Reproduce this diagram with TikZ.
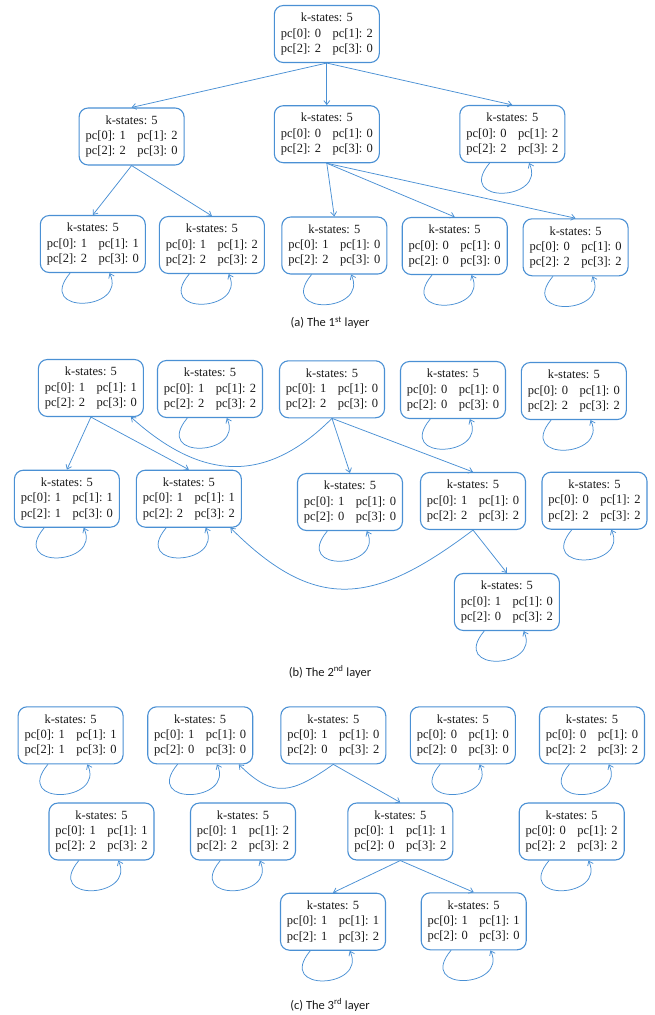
\documentclass[tikz,border=0pt]{standalone}
\usepackage{fontspec}
\setmainfont{Liberation Serif}
\newfontfamily\capfont{Carlito}
\usetikzlibrary{arrows.meta}
\definecolor{ksBlue}{HTML}{4A90D4}
\definecolor{ksInk}{HTML}{1A1A1A}
\tikzset{
 kgraph/.style={line cap=round,line join=round,text=ksInk},
 state/.style={draw=ksBlue,fill=white,line width=1.1pt,rounded corners=9pt,
   minimum width=105pt,minimum height=57pt,inner sep=0pt,align=center,
   font=\fontsize{12.5}{15.3}\selectfont},
 link/.style={draw=ksBlue,line width=.75pt,-{Straight Barb[length=4pt,width=6pt]}},
 selfloop/.style={link,out=-130,in=-65,out distance=55pt,in distance=42pt},
 back/.style={link,looseness=1.25},
 caption/.style={font=\capfont\fontsize{12.5}{15}\selectfont}
}
\newcommand{\kst}[4]{k-states: 5\\pc[0]: #1\hspace{11.5pt}pc[1]: #2\\pc[2]: #3\hspace{11.5pt}pc[3]: #4}

\begin{document}
\begin{tikzpicture}[kgraph,x=10pt,y=10pt]
 \useasboundingbox (0,0) rectangle (65.5,-101.5);
 % (a) the first layer
 \foreach \n/\x/\y/\p/\q/\r/\s in {a0/32.68/-3.40/0/2/2/0,a1/13.16/-13.65/1/2/2/0,
   a2/32.68/-13.42/0/0/2/0,a3/51.23/-13.40/0/2/2/2,a4/9.28/-24.40/1/1/2/0,
   a5/21.19/-24.50/1/2/2/2,a6/33.43/-24.55/1/0/2/0,a7/45.47/-24.60/0/0/0/0,
   a8/57.56/-24.73/0/0/2/2}{
  \node[state] (\n) at (\x,\y) {\kst{\p}{\q}{\r}{\s}};
 }
 % (b) the second layer
 \foreach \n/\x/\y/\p/\q/\r/\s in {b0/9.09/-38.80/1/1/2/0,b1/21.00/-38.90/1/2/2/2,
   b2/33.20/-38.93/1/0/2/0,b3/45.30/-39.00/0/0/0/0,b4/57.38/-39.10/0/0/2/2,
   b5/6.69/-49.87/1/1/1/0,b6/18.89/-49.87/1/1/2/2,b7/35.00/-50.20/1/0/0/0,
   b8/47.30/-50.10/1/0/2/2,b9/59.45/-50.07/0/2/2/2,b10/50.69/-60.20/1/0/0/2}{
  \node[state] (\n) at (\x,\y) {\kst{\p}{\q}{\r}{\s}};
 }
 % (c) the third layer
 \foreach \n/\x/\y/\p/\q/\r/\s in {c0/7.06/-73.53/1/1/1/0,c1/20.02/-73.53/1/0/0/0,
   c2/33.33/-73.53/1/0/0/2,c3/46.28/-73.53/0/0/0/0,c4/59.20/-73.53/0/0/2/2,
   c5/10.15/-83.15/1/1/2/2,c6/24.30/-83.15/1/2/2/2,c7/40.03/-83.15/1/1/0/2,
   c8/57.17/-83.15/0/2/2/2,c9/33.30/-92.17/1/1/1/2,c10/47.37/-92.13/1/1/0/0}{
  \node[state] (\n) at (\x,\y) {\kst{\p}{\q}{\r}{\s}};
 }
 \foreach \u/\v in {a0/a1,a0/a2,a0/a3,a1/a4,a1/a5,a2/a6,a2/a7,a2/a8,
   b0/b5,b0/b6,b2/b7,b2/b8,b8/b10,c2/c7,c7/c9,c7/c10}{
  \draw[link] (\u.south) -- (\v.north);
 }
 \foreach \n in {a3,a4,a5,a6,a7,a8,b1,b3,b4,b5,b6,b7,b9,b10,
   c0,c1,c3,c4,c5,c6,c8,c9,c10}{
  \draw[selfloop] (\n.-128) to (\n.-60);
 }
 \draw[back] (b2.south) to[out=-135,in=-42,looseness=1.2] (b0.-36);
 \draw[back] (b8.south) to[out=-143,in=-45,looseness=1.29] (b6.-35);
 \draw[back] (c2.south) to[out=-145,in=-45,looseness=1.35] (c1.-37);
 \node[caption] (capA) at (33.0,-32.3) {(a) The 1\textsuperscript{st} layer};
 \node[caption] (capB) at (33.0,-67.2) {(b) The 2\textsuperscript{nd} layer};
 \node[caption] (capC) at (33.0,-100.5) {(c) The 3\textsuperscript{rd} layer};
\end{tikzpicture}
\end{document}
